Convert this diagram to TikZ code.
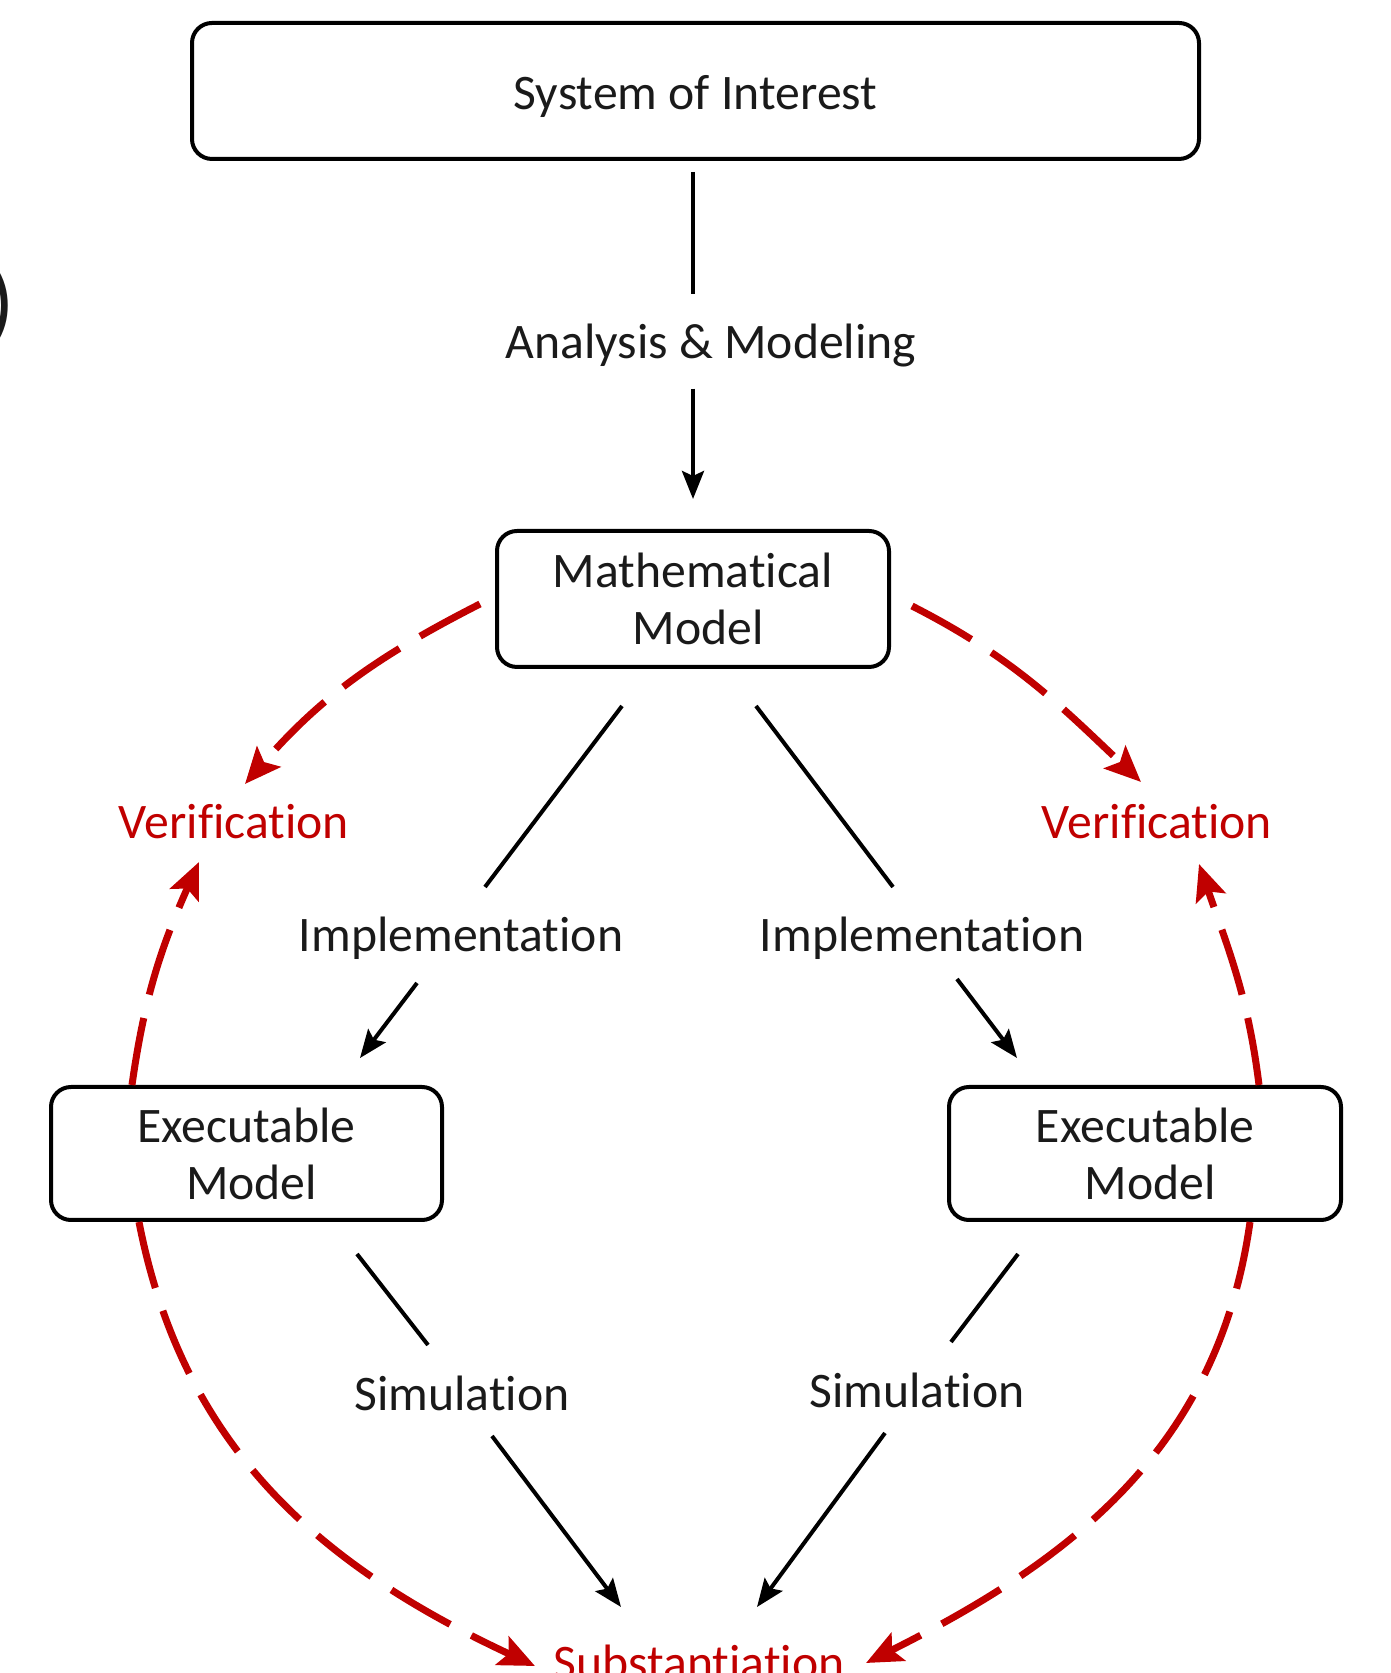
\documentclass[tikz,border=0pt]{standalone}
\usepackage{fontspec}
\setmainfont{Carlito}[RawFeature=-liga]
\usetikzlibrary{arrows.meta,calc}
\definecolor{vred}{HTML}{C00000}
\definecolor{txt}{HTML}{1A1A1A}
\begin{document}
\begin{tikzpicture}[x=1pt,y=1pt,
  every node/.style={font=\fontsize{49.7}{57}\selectfont, text=txt},
  box/.style={draw=black, line width=4pt, rounded corners=20pt, align=center, inner sep=0pt},
  lbl/.style={anchor=base, inner sep=0pt},
  vlbl/.style={lbl, text=vred},
  blk/.style={line width=4pt},
  blkarrow/.style={blk, -{Stealth[length=28pt,width=22pt,inset=5pt]}},
  vdash/.style={draw=vred, line width=7pt, dash pattern=on 68pt off 24pt},
  varrow/.style={vdash, -{Stealth[length=36pt,width=31pt,inset=7pt]}}
]
\useasboundingbox (0,0) rectangle (1391,1673);

% boxes
\node[box, minimum width=1007pt, minimum height=136pt, text height=38pt, text depth=0pt] (soi) at (695.5,1582) {System of Interest};
\node[box, minimum width=392pt, minimum height=136pt] (mm) at (693,1074) {Mathematical\\\hspace*{10pt}Model};
\node[box, minimum width=391pt, minimum height=133pt] (exL) at (246.5,519.5) {Executable\\\hspace*{10pt}Model};
\node[box, minimum width=392pt, minimum height=133pt] (exR) at (1145,519.5) {Executable\\\hspace*{10pt}Model};

% labels
\node[lbl] (am) at (711,1314) {Analysis \& Modeling};
\node[vlbl] (verL) at (234,834) {Verification};
\node[vlbl] (verR) at (1157,834) {Verification};
\node[lbl] (implL) at (461,721) {Implementation};
\node[lbl] (implR) at (922,721) {Implementation};
\node[lbl] (simL) at (462,262) {Simulation};
\node[lbl] (simR) at (917,265) {Simulation};
\node[vlbl] (subst) at (699,-6) {Substantiation};
\node[lbl, font=\fontsize{90}{100}\selectfont, anchor=base west] (paren) at (-13,1340) {)};

% black connectors
\draw[blk, shorten <=11pt] (soi.south -| mm.north) -- ($(am.north -| mm.north)+(0,30)$);
\draw[blkarrow, shorten >=30pt] ($(am.south -| mm.north)+(0,-21)$) -- (mm.north);

\draw[blk] ($(mm.south)+(-71,-37)$) -- ($(implL.base)+(24,65)$);
\draw[blkarrow] ($(implL.base)+(-44,-31)$) -- ($(exL.north)+(113.5,27)$);
\draw[blk] ($(mm.south)+(63,-37)$) -- ($(implR.base)+(-29,65)$);
\draw[blkarrow] ($(implR.base)+(35,-27)$) -- ($(exR.north)+(-128,27)$);

\draw[blk] ($(exL.south)+(110.5,-32)$) -- ($(simL.base)+(-34,66)$);
\draw[blkarrow] ($(simL.base)+(30,-25)$) -- ($(subst.base)+(-78,72)$);
\draw[blk] ($(exR.south)+(-127,-32)$) -- ($(simR.base)+(34,66)$);
\draw[blkarrow] ($(simR.base)+(-32,-25)$) -- ($(subst.base)+(58,72)$);

% red dashed connectors
\draw[varrow] ($(mm.west)+(-15,-5)$) to[out=207,in=49] ($(verL.base)+(11,55)$);
\draw[varrow] ($(exL.north)+(-114.5,0)$) to[out=82,in=246] ($(verL.base)+(-35,-23)$);
\draw[varrow] ($(exL.south)+(-107.5,0)$) to[out=281,in=155] ($(subst.base)+(-164,13)$);
\draw[varrow] ($(mm.east)+(21,-7)$) to[out=333,in=136.5] ($(verR.base)+(-16,57)$);
\draw[varrow] ($(exR.north)+(114,0)$) to[out=97,in=289] ($(verR.base)+(42,-25)$);
\draw[varrow] ($(exR.south)+(105,0)$) to[out=262,in=26.6] ($(subst.base)+(167,16)$);
\end{tikzpicture}
\end{document}
